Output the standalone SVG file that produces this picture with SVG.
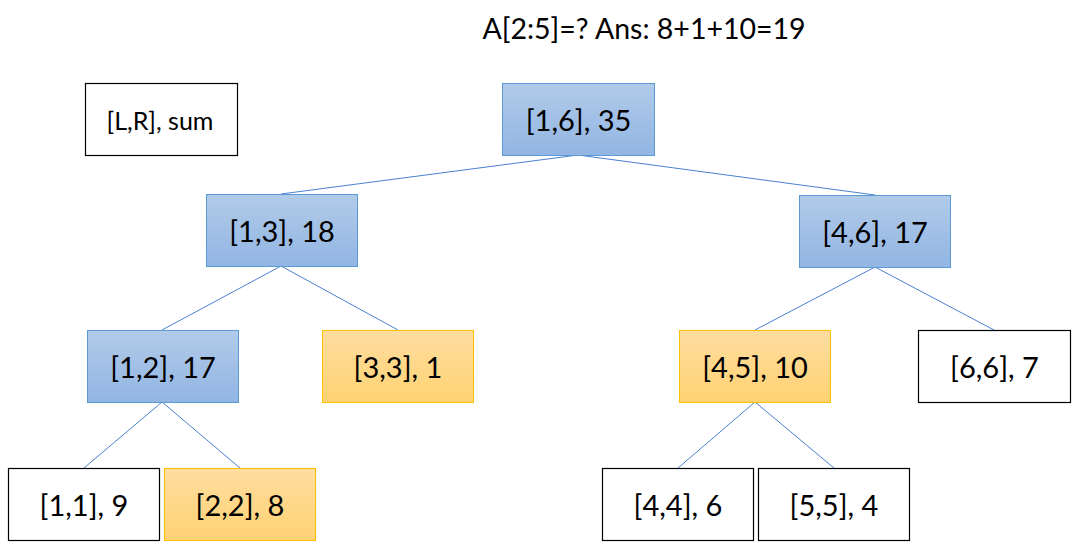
<svg xmlns="http://www.w3.org/2000/svg" width="1079" height="551" viewBox="0 0 1079 551">
<defs>
<linearGradient id="gb" x1="0" y1="0" x2="0" y2="1">
<stop offset="0" stop-color="#b1cbe9"/><stop offset="1" stop-color="#92b5e3"/>
</linearGradient>
<linearGradient id="go" x1="0" y1="0" x2="0" y2="1">
<stop offset="0" stop-color="#ffdda0"/><stop offset="1" stop-color="#ffd272"/>
</linearGradient>
<style>
text{font-family:Lato,"Open Sans","Liberation Sans",sans-serif;fill:#000;text-anchor:middle;dominant-baseline:central}
.n{font-size:29px}
.b rect{fill:url(#gb);stroke:#5b9bd5;stroke-width:1}
.o rect{fill:url(#go);stroke:#ffc000;stroke-width:1}
.w rect{fill:#fff;stroke:#000;stroke-width:1.2}
#edges line{stroke:#4a7fd0;stroke-width:1}
</style>
</defs>
<rect width="1079" height="551" fill="#fff"/>
<text x="644" y="28" style="font-size:28.5px">A[2:5]=? Ans: 8+1+10=19</text>
<g id="edges">
<line x1="578" y1="155" x2="281" y2="194"/>
<line x1="578" y1="155" x2="875" y2="195"/>
<line x1="281" y1="266" x2="162" y2="330"/>
<line x1="281" y1="266" x2="398" y2="330"/>
<line x1="875" y1="267" x2="755" y2="330"/>
<line x1="875" y1="267" x2="994" y2="330"/>
<line x1="162" y1="402" x2="84" y2="468"/>
<line x1="162" y1="402" x2="240" y2="468"/>
<line x1="755" y1="402" x2="678" y2="468"/>
<line x1="755" y1="402" x2="834" y2="468"/>
</g>
<g id="legend" class="w"><rect x="85.5" y="83.5" width="152" height="72"/><text x="160" y="119.5" style="font-size:25px">[L,R], sum</text></g>
<g id="n16" class="b"><rect x="502.5" y="83.5" width="152" height="72"/><text class="n" x="578.5" y="119.5">[1,6], 35</text></g>
<g id="n13" class="b"><rect x="206.5" y="194.5" width="151" height="72"/><text class="n" x="282" y="230.5">[1,3], 18</text></g>
<g id="n46" class="b"><rect x="799.5" y="195.5" width="151" height="72"/><text class="n" x="875" y="231.5">[4,6], 17</text></g>
<g id="n12" class="b"><rect x="87.5" y="330.5" width="151" height="72"/><text class="n" x="163" y="366.5">[1,2], 17</text></g>
<g id="n33" class="o"><rect x="322.5" y="330.5" width="151" height="72"/><text class="n" x="398" y="366.5">[3,3], 1</text></g>
<g id="n45" class="o"><rect x="679.5" y="330.5" width="151" height="72"/><text class="n" x="755" y="366.5">[4,5], 10</text></g>
<g id="n66" class="w"><rect x="918.5" y="330.5" width="152" height="72"/><text class="n" x="994.5" y="366.5">[6,6], 7</text></g>
<g id="n11" class="w"><rect x="8.5" y="468.5" width="151" height="72"/><text class="n" x="84" y="504.5">[1,1], 9</text></g>
<g id="n22" class="o"><rect x="164.5" y="468.5" width="151" height="72"/><text class="n" x="240" y="504.5">[2,2], 8</text></g>
<g id="n44" class="w"><rect x="602.5" y="468.5" width="151" height="72"/><text class="n" x="678" y="504.5">[4,4], 6</text></g>
<g id="n55" class="w"><rect x="758.5" y="468.5" width="151" height="72"/><text class="n" x="834" y="504.5">[5,5], 4</text></g>
</svg>
